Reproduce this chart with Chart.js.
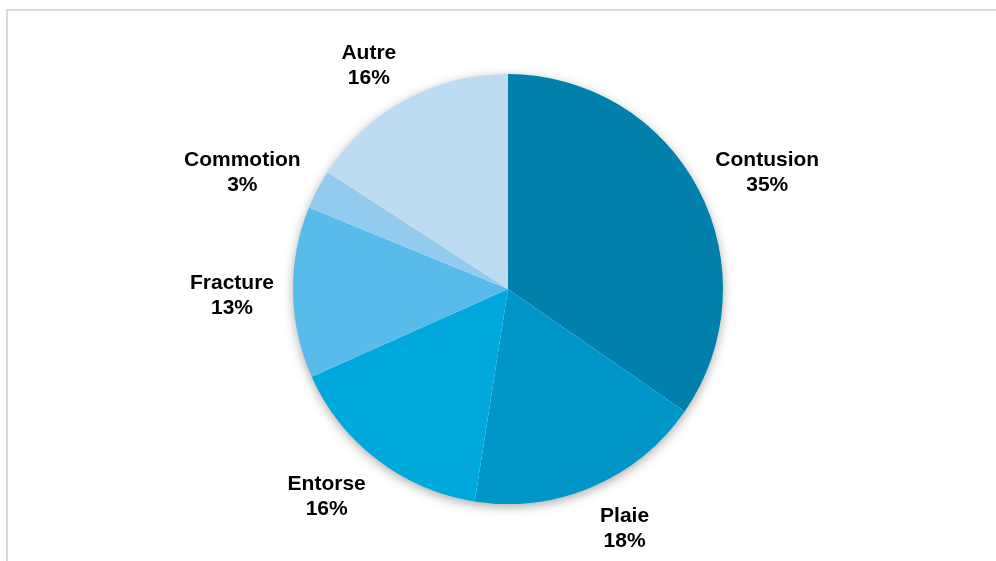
<!DOCTYPE html>
<html lang="fr">
<head>
<meta charset="utf-8">
<title>Types de blessures</title>
<script src="https://cdn.jsdelivr.net/npm/chart.js@4.4.1/dist/chart.umd.min.js"></script>
<style>
  html, body { margin: 0; padding: 0; background: #fff; overflow: hidden; }
  #wrap { position: relative; width: 996px; height: 561px; }
  #frame {
    position: absolute; left: 6px; top: 9px; width: 1000px; height: 600px;
    border-top: 2px solid #d9d9d9; border-left: 2px solid #d9d9d9;
    box-sizing: border-box; pointer-events: none;
  }
  canvas { position: absolute; left: 0; top: 0; }
</style>
</head>
<body>
<div id="wrap">
  <div id="frame"></div>
  <canvas id="chart" width="996" height="561"></canvas>
</div>
<script>
// Injury categories and their share (%)
const categories = ['Contusion', 'Plaie', 'Entorse', 'Fracture', 'Commotion', 'Autre'];
const shares = [35, 18, 16, 13, 3, 16];
const sliceColors = ['#0080ab', '#0096c7', '#00a9dc', '#59bbea', '#92cbee', '#bddcf2'];

const FONT = 'bold 21px "Liberation Sans", Arial, sans-serif';
const LINE_H = 25;

// Soft drop shadow under the whole pie
const pieShadow = {
  id: 'pieShadow',
  beforeDatasetsDraw(chart) {
    const arc = chart.getDatasetMeta(0).data[0];
    if (!arc) return;
    const { x, y, outerRadius } = arc.getProps(['x', 'y', 'outerRadius'], true);
    const ctx = chart.ctx;
    ctx.save();
    ctx.shadowColor = 'rgba(0,0,0,0.38)';
    ctx.shadowBlur = 12;
    ctx.shadowOffsetX = 0;
    ctx.shadowOffsetY = 3;
    ctx.fillStyle = '#ffffff';
    ctx.beginPath();
    ctx.arc(x, y, outerRadius - 1, 0, Math.PI * 2);
    ctx.fill();
    ctx.restore();
  }
};

// Two-line labels (name / value%) placed just outside each slice:
// an anchor sits on the slice's middle ray, and the text block is pushed
// outward from it so that its inner side faces the pie.
const outsideLabels = {
  id: 'outsideLabels',
  afterDatasetsDraw(chart) {
    const ctx = chart.ctx;
    const meta = chart.getDatasetMeta(0);
    const clamp = v => Math.max(-1, Math.min(1, v));
    ctx.save();
    ctx.font = FONT;
    ctx.fillStyle = '#000';
    ctx.textAlign = 'center';
    ctx.textBaseline = 'middle';
    meta.data.forEach((arc, i) => {
      const { x, y, startAngle, endAngle, outerRadius } =
        arc.getProps(['x', 'y', 'startAngle', 'endAngle', 'outerRadius'], true);
      const mid = (startAngle + endAngle) / 2;
      const c = Math.cos(mid), s = Math.sin(mid);
      const lines = [categories[i], shares[i] + '%'];
      const w = Math.max(...lines.map(t => ctx.measureText(t).width));
      const h = LINE_H * (lines.length - 1) + 18;
      const r = outerRadius + 19;
      const ax = x + c * r, ay = y + s * r;
      const cx = ax + clamp(c * 3) * w / 2;
      const cy = ay + clamp(s * 1.1) * h / 2 + 3;
      lines.forEach((t, k) => {
        ctx.fillText(t, cx, cy + (k - (lines.length - 1) / 2) * LINE_H);
      });
    });
    ctx.restore();
  }
};

new Chart(document.getElementById('chart'), {
  type: 'pie',
  data: {
    labels: categories,
    datasets: [{
      data: shares,
      backgroundColor: sliceColors,
      borderWidth: 0
    }]
  },
  options: {
    responsive: false,
    animation: false,
    radius: 215,
    layout: { padding: { left: 293, right: 273, top: 74, bottom: 57 } },
    plugins: {
      legend: { display: false },
      tooltip: { enabled: false }
    }
  },
  plugins: [pieShadow, outsideLabels]
});
</script>
</body>
</html>
